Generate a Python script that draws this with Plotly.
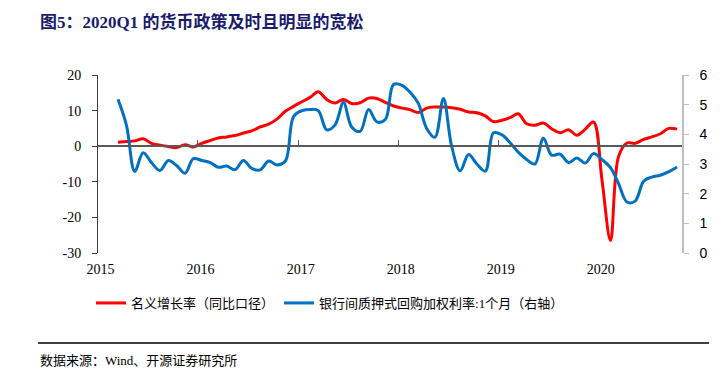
import plotly.graph_objects as go

# ---- data (monthly, 2015-03 .. 2020-10) ----
months = [f"{y}-{m:02d}-15" for y in range(2015, 2021) for m in range(1, 13)][2:70]

nominal_growth = [
    1.1, 1.3, 1.5, 2.1, 0.8, 0.3, -0.1, -0.4, 0.4, -0.2,            # 2015 Mar-Dec
    0.8, 1.6, 2.3, 2.6, 3.0, 3.7, 4.3, 5.4, 6.2, 7.6, 9.8, 11.2,     # 2016
    12.5, 13.8, 15.3, 13.1, 12.1, 13.1, 12.0, 12.2, 13.5, 13.4, 12.3, 11.3,  # 2017
    10.7, 10.2, 9.5, 10.7, 11.0, 11.0, 10.8, 10.4, 9.6, 9.4, 8.5, 6.9,   # 2018
    7.3, 8.1, 9.1, 6.3, 5.9, 6.5, 4.9, 3.8, 4.6, 3.1, 4.8, 6.8,     # 2019
    -9.6, -26.5, -3.0, 0.9, 0.8, 1.9, 2.6, 3.5, 5.0, 4.8,          # 2020 Jan-Oct
]

repo_rate_1m = [
    5.18, 4.3, 2.75, 3.38, 3.05, 2.78, 3.12, 2.95, 2.69, 3.18,
    3.12, 3.05, 2.89, 2.93, 2.81, 3.12, 2.85, 2.8, 3.1, 2.97, 3.1, 4.6,
    4.8, 4.84, 4.8, 4.15, 4.31, 5.07, 4.25, 4.1, 4.84, 4.42, 4.5, 5.68,
    5.65, 5.4, 5.05, 4.2, 3.9, 5.21, 3.6, 2.77, 3.32, 3.0, 2.76, 4.05,
    3.98, 3.7, 3.4, 3.15, 3.0, 3.87, 3.3, 3.33, 3.05, 3.2, 3.03, 3.35,
    3.15, 2.88, 2.35, 1.72, 1.75, 2.42, 2.56, 2.62, 2.74, 2.9,
]

year_ticks = ["2015-01-01", "2016-01-01", "2017-01-01", "2018-01-01", "2019-01-01", "2020-01-01"]
year_labels = ["2015", "2016", "2017", "2018", "2019", "2020"]
label_pos = [t[:8] + "10" for t in year_ticks]
left_ticks = [20, 10, 0, -10, -20, -30]
left_labels = ["20", "10", "0", "-10", "-20", "-30"]
right_ticks = [6, 5, 4, 3, 2, 1, 0]
right_labels = ["6", "5", "4", "3", "2", "1", "0"]

name_red = "名义增长率（同比口径）"
name_blue = "银行间质押式回购加权利率:1个月（右轴）"
title_text = "图5：2020Q1 的货币政策及时且明显的宽松"
source_text = "数据来源：Wind、开源证券研究所"

# the page body has an 8px margin: lay the figure out in page pixels minus 8
OFF = 8
W, H = 728 - OFF, 375 - OFF
ML, MR, MT, MB = 98 - OFF, 46, 75 - OFF, 122
PW, PH = W - ML - MR, H - MT - MB


def px_x(page_x):
    return (page_x - OFF - ML) / PW


def px_y(page_y):
    return (H - (page_y - OFF) - MB) / PH


x_range = ["2015-01-01", "2020-11-02"]
y_range = [-30, 20]
y2_range = [0, 6]
zero_pos = (0 - y_range[0]) / (y_range[1] - y_range[0])

serif = "Liberation Serif, Times New Roman, serif"
sans = "Liberation Sans, Arial, sans-serif"
mixed = "Liberation Serif, Noto Sans CJK SC, serif"

fig = go.Figure()
fig.add_trace(go.Scatter(
    x=months, y=nominal_growth, name=name_red, mode="lines",
    line=dict(color="#FF0000", width=3, shape="spline", smoothing=1.0),
    xaxis="x", yaxis="y",
))
fig.add_trace(go.Scatter(
    x=months, y=repo_rate_1m, name=name_blue, mode="lines",
    line=dict(color="#0070C0", width=3, shape="spline", smoothing=1.0),
    xaxis="x2", yaxis="y2",
))

fig.update_layout(
    width=W, height=H,
    margin=dict(l=ML, r=MR, t=MT, b=MB, autoexpand=False),
    paper_bgcolor="white", plot_bgcolor="white",
    showlegend=True,
    legend=dict(
        orientation="h", x=px_x(91), xanchor="left",
        y=px_y(303), yanchor="middle",
        font=dict(family=mixed, size=13, color="#000000"),
        bgcolor="rgba(0,0,0,0)", itemwidth=30,
    ),
    title=dict(
        text="<b>" + title_text + "</b>", xref="container", yref="container",
        x=(40 - OFF) / W, xanchor="left", y=1 - (22 - OFF) / H, yanchor="middle",
        pad=dict(l=0, r=0, t=0, b=0),
        font=dict(family=mixed, size=17, color="#1B1B6E"),
    ),
    xaxis=dict(
        type="date", range=x_range, anchor="free", position=zero_pos,
        showline=True, linecolor="#595959", linewidth=1.5,
        ticks="inside", tickvals=year_ticks, ticklen=5, tickcolor="#595959", tickwidth=1,
        showticklabels=False, showgrid=False, zeroline=False,
    ),
    xaxis2=dict(
        type="date", range=x_range, overlaying="x", anchor="y", side="bottom",
        showline=False, ticks="", tickvals=label_pos, ticktext=year_labels,
        tickfont=dict(family=serif, size=14, color="#000000"),
        showgrid=False, zeroline=False, ticklabelstandoff=6,
    ),
    yaxis=dict(
        range=y_range, anchor="x", side="left", tickvals=left_ticks, ticktext=left_labels,
        showline=True, linecolor="#404040", linewidth=1,
        ticks="outside", ticklen=5, tickcolor="#404040",
        tickfont=dict(family=serif, size=14, color="#000000"),
        showgrid=False, zeroline=False, ticklabelstandoff=8,
    ),
    yaxis2=dict(
        range=y2_range, overlaying="y", side="right", anchor="x2",
        tickvals=right_ticks, ticktext=right_labels,
        showline=True, linecolor="#BFBFBF", linewidth=1.5,
        ticks="outside", ticklen=5, tickcolor="#BFBFBF",
        tickfont=dict(family=sans, size=14, color="#000000"),
        showgrid=False, zeroline=False, ticklabelstandoff=8,
    ),
    shapes=[dict(
        type="line", xref="paper", yref="paper",
        x0=px_x(38), x1=px_x(709), y0=px_y(343), y1=px_y(343),
        line=dict(color="#000000", width=1.5),
    )],
    annotations=[dict(
        text=source_text, xref="paper", yref="paper",
        x=px_x(38), xanchor="left", y=px_y(360), yanchor="middle",
        showarrow=False, font=dict(family=mixed, size=13, color="#000000"),
    )],
)

fig.write_html("out.html")
